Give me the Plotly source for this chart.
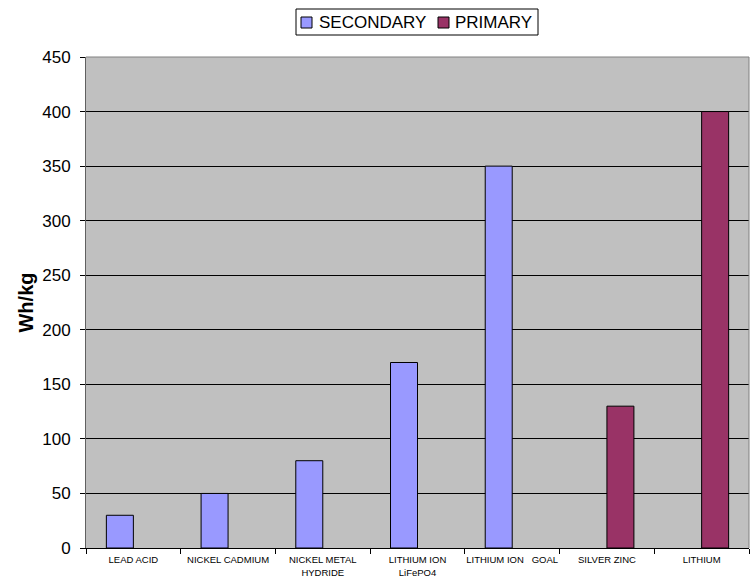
import plotly.graph_objects as go

categories = ["LEAD ACID", "NICKEL CADMIUM", "NICKEL METAL<br>HYDRIDE",
              "LITHIUM ION<br>LiFePO4", "LITHIUM ION\u00a0\u00a0\u00a0GOAL",
              "SILVER ZINC", "LITHIUM"]
secondary = [30, 50, 80, 170, 350, None, None]
primary = [None, None, None, None, None, 130, 400]
y_ticks = [0, 50, 100, 150, 200, 250, 300, 350, 400, 450]
series_names = ["SECONDARY", "PRIMARY"]
series_colors = ["#9999FF", "#993366"]

L, R, T, B = 86, 749, 57, 548
W, H = 755, 578


def px2x(px):
    return (px - L) / (R - L)


def py2y(py):
    return (B - py) / (B - T)


fig = go.Figure()
for name, vals, col in zip(series_names, [secondary, primary], series_colors):
    fig.add_trace(go.Bar(x=categories, y=vals, name=name, showlegend=False,
                         marker=dict(color=col, line=dict(color="black", width=1))))

fig.update_layout(
    width=W, height=H,
    margin=dict(l=L, r=W - R, t=T, b=H - B),
    paper_bgcolor="white", plot_bgcolor="#C0C0C0",
    barmode="group", bargap=0.43, bargroupgap=0,
    font=dict(family="Liberation Sans, Arial, sans-serif", color="black"),
    showlegend=False,
)
fig.update_xaxes(type="category", tickson="boundaries", ticks="outside", ticklen=5,
                 tickcolor="black", tickfont=dict(size=9.5), tickangle=0,
                 ticklabelstandoff=3,
                 automargin=False, showline=True, linecolor="black", showgrid=False)
fig.update_yaxes(range=[0, 450], tickvals=y_ticks, ticks="outside", ticklen=5,
                 tickcolor="black", tickfont=dict(size=17), showgrid=True,
                 ticklabelstandoff=6,
                 gridcolor="black", gridwidth=1, zeroline=False, showline=True,
                 linecolor="#606060", linewidth=1, automargin=False,
                 title=dict(text="<b>Wh/kg</b>", font=dict(size=20), standoff=3))
# plot border (top/right)
fig.add_shape(type="line", xref="paper", yref="paper", x0=0, x1=1, y0=1, y1=1,
              line=dict(color="#808080", width=1))
fig.add_shape(type="line", xref="paper", yref="paper", x0=1, x1=1, y0=0, y1=1,
              line=dict(color="#808080", width=1))

# legend box
fig.add_shape(type="rect", xref="paper", yref="paper",
              x0=px2x(296), x1=px2x(538), y0=py2y(35), y1=py2y(9),
              line=dict(color="black", width=1), fillcolor="white")
sq_x = [301, 438]
txt_x = [317, 453]
for name, col, sx, tx in zip(series_names, series_colors, sq_x, txt_x):
    fig.add_shape(type="rect", xref="paper", yref="paper",
                  x0=px2x(sx), x1=px2x(sx + 11), y0=py2y(28), y1=py2y(17),
                  line=dict(color="black", width=1), fillcolor=col)
    fig.add_annotation(xref="paper", yref="paper", x=px2x(tx), y=py2y(22.5),
                       text=name, showarrow=False, xanchor="left", yanchor="middle",
                       font=dict(size=17), xshift=0)

fig.write_html("out.html")
